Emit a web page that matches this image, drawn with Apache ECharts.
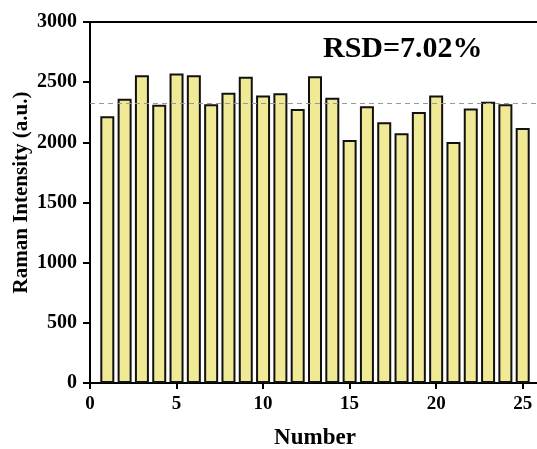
<!DOCTYPE html>
<html>
<head>
<meta charset="utf-8">
<script src="https://cdn.jsdelivr.net/npm/echarts@6/dist/echarts.min.js"></script>
<style>
  html, body { margin: 0; padding: 0; background: #fff; }
  #chart { width: 537px; height: 449px; }
</style>
</head>
<body>
<div id="chart"></div>
<script>
// Sample numbers 1..25 and their Raman intensities (a.u.)
const sampleNumbers = [1, 2, 3, 4, 5, 6, 7, 8, 9, 10, 11, 12, 13, 14, 15, 16, 17, 18, 19, 20, 21, 22, 23, 24, 25];
const intensities = [2217, 2362, 2558, 2312, 2572, 2558, 2317, 2412, 2545, 2389,
                     2408, 2278, 2550, 2370, 2020, 2300, 2167, 2075, 2253, 2389,
                     2003, 2281, 2337, 2317, 2120];
// Average intensity, drawn as the dashed reference line behind the bars
const meanIntensity = 2325;
const rsdText = 'RSD=7.02%';
const xTicks = [0, 5, 10, 15, 20, 25];
const yTicks = [0, 500, 1000, 1500, 2000, 2500, 3000];

const FONT = '"Liberation Serif", "Times New Roman", serif';
const chart = echarts.init(document.getElementById('chart'), null, { renderer: 'canvas' });

const barData = sampleNumbers.map((n, i) => [n, intensities[i]]);

chart.setOption({
  animation: false,
  backgroundColor: '#ffffff',
  grid: {
    left: 90, right: -3, top: 22, bottom: 66,
    containLabel: false,
    outerBoundsMode: 'none',
    show: true, borderColor: '#000', borderWidth: 2
  },
  xAxis: {
    type: 'value',
    min: 0, max: 26, interval: 5,
    name: 'Number',
    nameLocation: 'middle',
    nameGap: 44,
    nameMoveOverlap: false,
    nameTextStyle: { fontFamily: FONT, fontWeight: 'bold', fontSize: 23, color: '#000' },
    axisLine: { show: true, onZero: false, lineStyle: { color: '#000', width: 2 } },
    axisTick: { show: true, inside: false, length: 6, lineStyle: { color: '#000', width: 2 } },
    axisLabel: {
      fontFamily: FONT, fontWeight: 'bold', fontSize: 19, color: '#000', margin: 12,
      formatter: v => (xTicks.includes(v) ? String(v) : '')
    },
    splitLine: { show: false }
  },
  yAxis: {
    type: 'value',
    min: 0, max: 3000, interval: 500,
    name: 'Raman Intensity (a.u.)',
    nameLocation: 'middle',
    nameGap: 58,
    nameMoveOverlap: false,
    nameTextStyle: {
      fontFamily: FONT, fontWeight: 'bold', fontSize: 21, color: '#000',
      padding: [0, 0, 0, 20]
    },
    axisLine: { show: true, lineStyle: { color: '#000', width: 2 } },
    axisTick: { show: true, inside: false, length: 7, lineStyle: { color: '#000', width: 2 } },
    axisLabel: {
      fontFamily: FONT, fontWeight: 'bold', fontSize: 20, color: '#000', margin: 13,
      formatter: v => (yTicks.includes(v) ? String(v) : '')
    },
    splitLine: { show: false }
  },
  series: [
    {
      // carrier for the mean line, kept under the bars
      type: 'line',
      data: [],
      z: 1,
      markLine: {
        silent: true,
        symbol: 'none',
        label: { show: false },
        lineStyle: { color: '#999', type: [5, 4], width: 1 },
        data: [{ yAxis: meanIntensity }]
      }
    },
    {
      type: 'bar',
      data: barData,
      barWidth: 14,
      z: 3,
      itemStyle: { color: '#F0E996', borderColor: '#111', borderWidth: 2 }
    }
  ],
  graphic: [
    {
      type: 'text',
      left: 323,
      top: 34,
      style: {
        text: rsdText,
        fontFamily: FONT, fontWeight: 'bold', fontSize: 30, fill: '#000'
      }
    }
  ]
});
</script>
</body>
</html>
